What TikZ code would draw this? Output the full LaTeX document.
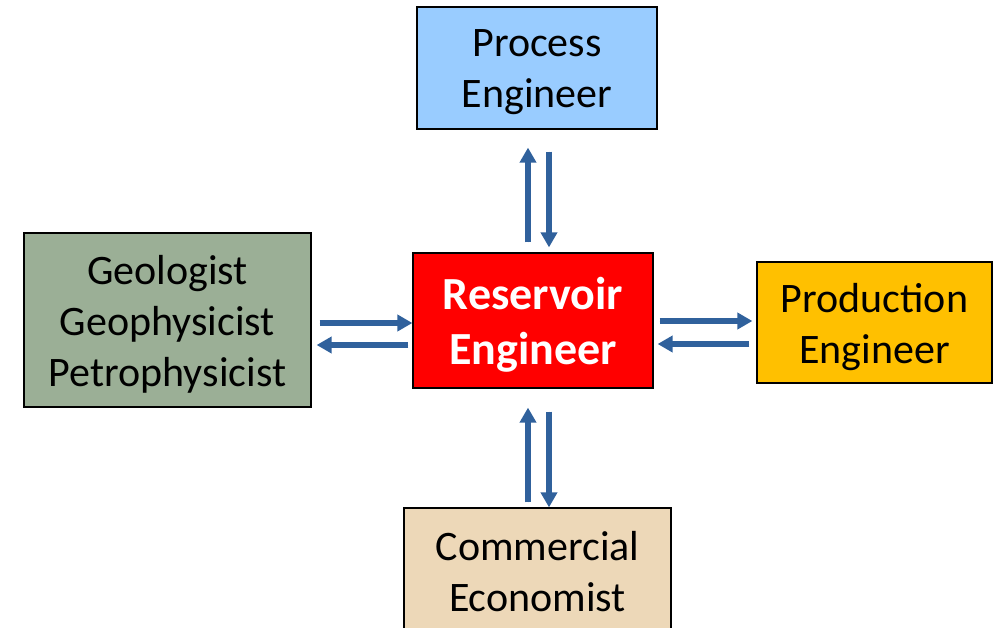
\documentclass[tikz,border=0pt]{standalone}
\usepackage{fontspec}
\setmainfont{Carlito}
\usetikzlibrary{arrows.meta,positioning}
\definecolor{procblue}{HTML}{99CCFF}
\definecolor{geogreen}{HTML}{9BAF96}
\definecolor{prodorange}{HTML}{FFC000}
\definecolor{commtan}{HTML}{EDD8B8}
\definecolor{arrowblue}{HTML}{30619C}
\begin{document}
\begin{tikzpicture}[x=1pt, y=-1pt, >={Triangle[width=16pt,length=15pt]}]
		\useasboundingbox (0,0) rectangle (996,627);
		\clip (0,0) rectangle (996,627);
		\tikzstyle{box} = [draw=black, line width=1.2pt, inner sep=0pt]
		\tikzstyle{txt} = [draw=none, fill=none, align=center, inner sep=0pt, yshift=-4.5pt, font=\fontsize{42}{51}\selectfont]
		\node[box, fill=procblue, minimum width=240pt, minimum height=122pt, label={[txt]center:Process\\Engineer}] (proc) at (537, 68) {};
		\node[box, fill=geogreen, minimum width=287pt, minimum height=174pt, label={[txt]center:Geologist\\Geophysicist\\Petrophysicist}] (geo) at (167.5, 320) {};
		\node[box, fill=red, minimum width=240pt, minimum height=135pt, label={[txt, text=white, font=\fontsize{46}{55}\selectfont\bfseries]center:Reservoir\\Engineer}] (res) at (533, 320.5) {};
		\node[box, fill=prodorange, minimum width=235pt, minimum height=121pt, label={[txt]center:Production\\Engineer}] (prod) at (874.5, 322.5) {};
		\node[box, fill=commtan, minimum width=267pt, minimum height=136pt, label={[txt, yshift=9pt]center:Commercial\\Economist}] (comm) at (537.5, 576) {};

		\tikzstyle{flow} = [->, draw=arrowblue, fill=arrowblue, line width=6pt]
		\draw [flow] ([xshift=-5pt,yshift=10pt]res.north) -- ([xshift=-9pt,yshift=-18pt]proc.south);
		\draw [flow] ([xshift=12pt,yshift=-22pt]proc.south) -- ([xshift=16pt,yshift=5pt]res.north);
		\draw [flow] ([xshift=-9.5pt,yshift=5pt]comm.north) -- ([xshift=-5pt,yshift=-19pt]res.south);
		\draw [flow] ([xshift=16pt,yshift=-23pt]res.south) -- ([xshift=11.5pt]comm.north);
		\draw [flow] ([xshift=8pt,yshift=-3pt]geo.east) -- ([yshift=-2.5pt]res.west);
		\draw [flow] ([xshift=-4pt,yshift=-24.5pt]res.west) -- ([xshift=5pt,yshift=-25pt]geo.east);
		\draw [flow] ([xshift=6pt,yshift=-0.5pt]res.east) -- ([xshift=-4pt,yshift=1.5pt]prod.west);
		\draw [flow] ([xshift=-7pt,yshift=-21.5pt]prod.west) -- ([xshift=4pt,yshift=-23.5pt]res.east);
\end{tikzpicture}
\end{document}
